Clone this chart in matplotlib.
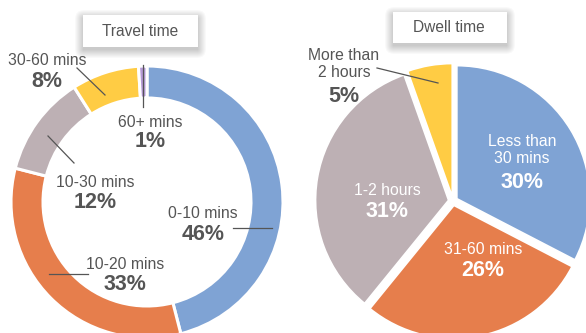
import matplotlib.pyplot as plt
from matplotlib.patches import FancyBboxPatch, Rectangle

# travel time to the site (donut)
travel_labels = ["0-10 mins", "10-20 mins", "10-30 mins", "30-60 mins", "60+ mins"]
travel_pct = [46, 33, 12, 8, 1]
travel_colors = ["#7FA3D4", "#E67E4C", "#BDB0B4", "#FFCC44", "#B69AD6"]

# time spent on site (pie)
dwell_labels = ["Less than\n30 mins", "31-60 mins", "1-2 hours", "More than\n2 hours"]
dwell_pct = [30, 26, 31, 5]
dwell_colors = ["#7FA3D4", "#E67E4C", "#BDB0B4", "#FFCC44"]

W, H = 586, 333
TXT = "#555555"
plt.rcParams['font.family'] = ['Liberation Sans', 'DejaVu Sans']

fig = plt.figure(figsize=(W / 100, H / 100), dpi=100)
ax = fig.add_axes([0, 0, 1, 1])


def Y(y):
    # work in top-down pixel rows
    return H - y


ax.pie(travel_pct, colors=travel_colors, startangle=90, counterclock=False,
       center=(147, Y(202)), radius=136,
       wedgeprops=dict(width=32, edgecolor="white", linewidth=2.2))

# explode is in data units here (pixels), not a fraction of the radius
ax.pie(dwell_pct, colors=dwell_colors, startangle=90, counterclock=False,
       center=(453, Y(201)), radius=133, explode=[4.5] * len(dwell_pct),
       wedgeprops=dict(edgecolor="white", linewidth=1.2))


def title_box(x0, y0, x1, y1, text, tx, ty):
    # soft drop shadow under a white label box
    for k in range(9, 0, -1):
        ax.add_patch(FancyBboxPatch((x0 - k + 1, Y(y1 + 3 + k - 1)), x1 - x0 + 2 * k - 2,
                                    y1 - y0 + 2 * k - 2,
                                    boxstyle=f"round,pad=0,rounding_size={k}",
                                    facecolor="black", edgecolor="none",
                                    alpha=0.022, zorder=4))
    ax.add_patch(Rectangle((x0, Y(y1)), x1 - x0, y1 - y0,
                           facecolor="white", edgecolor="none", zorder=5))
    ax.text(tx, Y(ty), text, ha="center", va="baseline", fontsize=11.2,
            color=TXT, zorder=6)


title_box(83, 15, 198, 47, "Travel time", 140, 36.5)
title_box(393, 12, 507, 43, "Dwell time", 449, 32.5)


def label(x, y_name, y_pct, name, pct, color=TXT):
    ax.text(x, Y(y_name), name, ha="center", va="baseline", fontsize=11.3,
            color=color, linespacing=1.2, zorder=6)
    ax.text(x, Y(y_pct), f"{pct}%", ha="center", va="baseline", fontsize=15.5,
            fontweight="bold", color=color, zorder=6)


def leader(x0, y0, x1, y1):
    ax.plot([x0, x1], [Y(y0), Y(y1)], color="#555555", lw=0.9, zorder=6)


# donut labels
label(47, 65, 87, travel_labels[3], travel_pct[3])
label(150, 127, 147, travel_labels[4], travel_pct[4])
label(95, 187, 208, travel_labels[2], travel_pct[2])
label(203, 218, 240, travel_labels[0], travel_pct[0])
label(125, 269, 290, travel_labels[1], travel_pct[1])
leader(77, 68, 105, 95)
leader(143, 65, 143, 107)
leader(48, 136, 74, 163)
leader(233, 228, 272, 228)
leader(49, 274, 88, 274)

# pie labels
label(344, 77, 102, dwell_labels[3], dwell_pct[3])
label(522, 163, 188, dwell_labels[0], dwell_pct[0], "white")
label(483, 254, 276, dwell_labels[1], dwell_pct[1], "white")
label(387, 195, 217, dwell_labels[2], dwell_pct[2], "white")
leader(377, 68, 438, 83)

ax.set_xlim(0, W)
ax.set_ylim(0, H)
ax.set_aspect("equal")
ax.axis("off")

fig.savefig("out.png", dpi=100, facecolor="white")
